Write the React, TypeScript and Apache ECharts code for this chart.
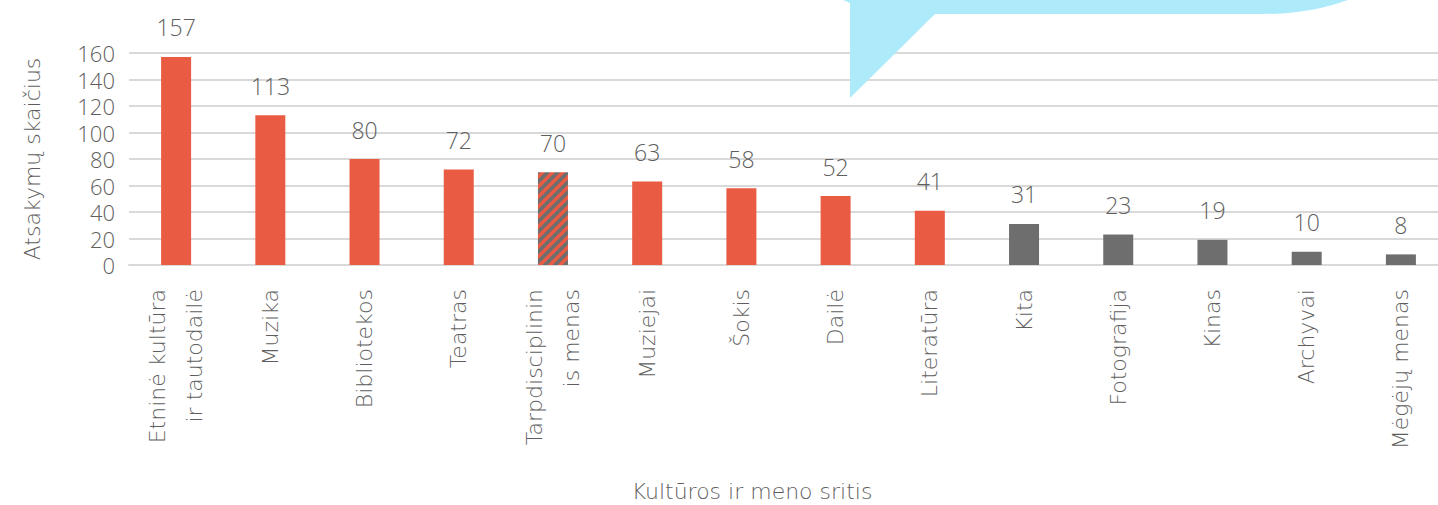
import React, { useEffect, useRef } from "react";
import * as echarts from "echarts";

const categories = [
  "Etninė kultūra\nir tautodailė",
  "Muzika",
  "Bibliotekos",
  "Teatras",
  "Tarpdisciplinin\nis menas",
  "Muziejai",
  "Šokis",
  "Dailė",
  "Literatūra",
  "Kita",
  "Fotografija",
  "Kinas",
  "Archyvai",
  "Mėgėjų menas",
];
const values = [157, 113, 80, 72, 70, 63, 58, 52, 41, 31, 23, 19, 10, 8];
const kinds = ["red", "red", "red", "red", "hatch", "red", "red", "red", "red", "gray", "gray", "gray", "gray", "gray"];
const yTicks = { min: 0, max: 160, interval: 20 };
const xTitle = "Kultūros ir meno sritis";
const yTitle = "Atsakymų skaičius";

const RED = "#EA5B44";
const GRAY = "#6E6E6E";
const TEXT = "#5E5E5E";
const NUMFONT = "'Open Sans', sans-serif";
const WORDFONT = "'DejaVu Sans', sans-serif";
const FW = 300;
const WFW = 200;

function makeHatch() {
  const s = 10;
  const c = document.createElement("canvas");
  c.width = s;
  c.height = s;
  const ctx = c.getContext("2d")!;
  ctx.fillStyle = RED;
  ctx.fillRect(0, 0, s, s);
  ctx.strokeStyle = GRAY;
  ctx.lineWidth = 3.6;
  ctx.beginPath();
  ctx.moveTo(-s, 2 * s);
  ctx.lineTo(2 * s, -s);
  ctx.moveTo(-s, s);
  ctx.lineTo(s, -s);
  ctx.moveTo(0, 2 * s);
  ctx.lineTo(2 * s, 0);
  ctx.stroke();
  return c;
}

const bubblePath =
  "M843,0 L850,3 L850,98 L935,14 L1262,14 C1300,14 1325,8 1348,0 Z";
let registered = false;

export default function App() {
  const ref = useRef<HTMLDivElement>(null);
  useEffect(() => {
    document.body.style.margin = "0";
    if (!registered) {
      echarts.graphic.registerShape("logo", echarts.graphic.extendPath(bubblePath, {}));
      registered = true;
    }
    const chart = echarts.init(ref.current!, null, { renderer: "svg" });
    const hatch = makeHatch();
    const data = values.map((v, i) => ({
      value: v,
      itemStyle: {
        color:
          kinds[i] === "red"
            ? RED
            : kinds[i] === "gray"
            ? GRAY
            : { image: hatch, repeat: "repeat" },
      },
    }));
    chart.setOption({
      animation: false,
      textStyle: { fontFamily: NUMFONT, fontWeight: FW },
      title: {
        text: xTitle,
        left: 752,
        top: 480,
        textAlign: "center",
        padding: 0,
        textStyle: {
          color: TEXT,
          fontSize: 22,
          fontFamily: WORDFONT,
          fontWeight: WFW,
        },
      },
      grid: {
        left: 129,
        top: 53,
        width: 1319,
        height: 212,
        containLabel: false,
        outerBoundsMode: "none",
      },
      xAxis: {
        type: "category",
        data: categories,
        axisLine: { show: true, lineStyle: { color: "#D9D9D9", width: 2 } },
        axisTick: { show: false },
        axisLabel: {
          rotate: 90,
          interval: 0,
          margin: 24,
          color: TEXT,
          fontSize: 22,
          lineHeight: 37,
          fontFamily: WORDFONT,
          fontWeight: WFW,
        },
      },
      yAxis: {
        type: "value",
        min: yTicks.min,
        max: yTicks.max,
        interval: yTicks.interval,
        axisLine: { show: false },
        axisTick: { show: false },
        splitLine: { lineStyle: { color: "#D9D9D9", width: 2 } },
        axisLabel: {
          color: TEXT,
          fontSize: 22,
          lineHeight: 22,
          margin: 14,
          fontFamily: NUMFONT,
          fontWeight: FW,
        },
        name: yTitle,
        nameLocation: "middle",
        nameGap: 86,
        nameTextStyle: { color: TEXT, fontSize: 22, fontFamily: WORDFONT, fontWeight: WFW },
      },
      series: [
        {
          type: "bar",
          data,
          barWidth: 30,
          label: {
            show: true,
            position: "top",
            distance: 18,
            color: TEXT,
            fontSize: 23,
            fontFamily: NUMFONT,
            fontWeight: FW,
          },
        },
      ],
      graphic: [
        {
          type: "logo",
          x: 0,
          y: 0,
          z: 100,
          style: { fill: "#ADEBFA" },
        },
      ],
    });
    return () => chart.dispose();
  }, []);
  return <div ref={ref} style={{ width: 1438, height: 505 }} />;
}
